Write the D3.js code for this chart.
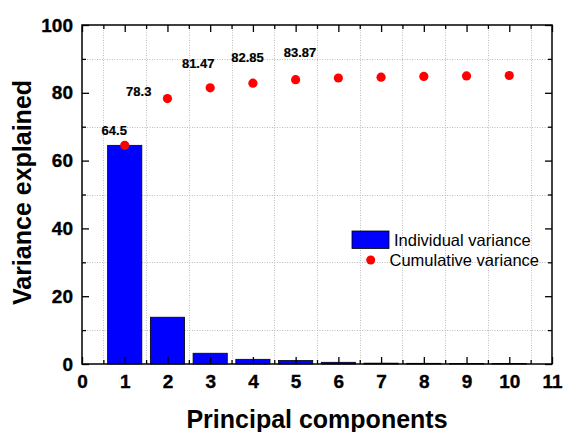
<!DOCTYPE html>
<html>
<head>
<meta charset="utf-8">
<script src="https://cdn.jsdelivr.net/npm/d3@7"></script>
<style>
  html, body { margin: 0; padding: 0; background: #fff; }
  svg { display: block; font-family: Arial, "Liberation Sans", sans-serif; }
</style>
</head>
<body>
<svg id="chart" width="564" height="432"></svg>
<script>
// ---- data ----
const components = [1, 2, 3, 4, 5, 6, 7, 8, 9, 10];
const individualVariance = [64.5, 13.8, 3.17, 1.38, 1.02, 0.5, 0.25, 0.2, 0.16, 0.12];
const cumulativeVariance = [64.5, 78.3, 81.47, 82.85, 83.87, 84.37, 84.62, 84.82, 84.98, 85.1];
const cumulativeLabels = ["64.5", "78.3", "81.47", "82.85", "83.87"];
const xTicks = [0, 1, 2, 3, 4, 5, 6, 7, 8, 9, 10, 11];
const yTicks = [0, 20, 40, 60, 80, 100];
const yMinorTicks = [10, 30, 50, 70, 90];
const xMinorTicks = [0.5, 1.5, 2.5, 3.5, 4.5, 5.5, 6.5, 7.5, 8.5, 9.5, 10.5];
const seriesNames = ["Individual variance", "Cumulative variance"];
const xTitle = "Principal components";
const yTitle = "Variance explained";

// label placement (style, pixel offsets from the point)
const labelOffsets = [[-10.5, -10.5], [-28.7, -3], [-12, -20], [-5.4, -21.4], [4.4, -23]];

// ---- layout ----
const L = 82, R = 552, T = 25, B = 364;
const svg = d3.select("#chart");
const x = d3.scaleLinear().domain([0, 11]).range([L, R]);
const y = d3.scaleLinear().domain([0, 100]).range([B, T]);

// grid
const grid = svg.append("g").attr("stroke", "#bdbdbd").attr("stroke-width", 1).attr("stroke-dasharray", "1,1.5");
grid.selectAll("line.vx").data(xMinorTicks).join("line")
  .attr("x1", d => Math.round(x(d)) + 0.5).attr("x2", d => Math.round(x(d)) + 0.5)
  .attr("y1", T).attr("y2", B);
grid.selectAll("line.hy").data(yMinorTicks).join("line")
  .attr("x1", L).attr("x2", R)
  .attr("y1", d => Math.round(y(d)) + 0.5).attr("y2", d => Math.round(y(d)) + 0.5);

// bars
const bw = 0.8;
svg.append("g").selectAll("rect").data(components).join("rect")
  .attr("x", (d) => x(d - bw / 2))
  .attr("width", x(bw) - x(0))
  .attr("y", (d, i) => y(individualVariance[i]))
  .attr("height", (d, i) => y(0) - y(individualVariance[i]))
  .attr("fill", "#0000ff")
  .attr("stroke", "#000")
  .attr("stroke-width", 0.8);

// axes
function styleAxis(g, fontSize) {
  g.select(".domain").remove();
  g.selectAll("line").attr("stroke", "#000").attr("stroke-width", 1.3);
  g.selectAll("text").attr("fill", "#000").attr("font-size", fontSize).attr("font-weight", "bold")
    .attr("stroke", "#000").attr("stroke-width", 0.35)
    .attr("font-family", "Arial, 'Liberation Sans', sans-serif");
}
svg.append("g").attr("transform", `translate(0,${B})`)
  .call(d3.axisBottom(x).tickValues(xTicks).tickSize(-7).tickSizeOuter(0).tickPadding(11).tickFormat(d3.format("d")))
  .call(g => styleAxis(g, 19));
svg.append("g").attr("transform", `translate(0,${B})`)
  .call(d3.axisBottom(x).tickValues(xMinorTicks).tickSize(-4).tickSizeOuter(0).tickFormat(""))
  .call(g => styleAxis(g, 19));
svg.append("g").attr("transform", `translate(0,${T})`)
  .call(d3.axisBottom(x).tickValues(xTicks).tickSize(7).tickSizeOuter(0).tickFormat(""))
  .call(g => styleAxis(g, 19));
svg.append("g").attr("transform", `translate(0,${T})`)
  .call(d3.axisBottom(x).tickValues(xMinorTicks).tickSize(4).tickSizeOuter(0).tickFormat(""))
  .call(g => styleAxis(g, 19));
svg.append("g").attr("transform", `translate(${L},0)`)
  .call(d3.axisLeft(y).tickValues(yTicks).tickSize(-7).tickSizeOuter(0).tickPadding(9).tickFormat(d3.format("d")))
  .call(g => styleAxis(g, 19));
svg.append("g").attr("transform", `translate(${L},0)`)
  .call(d3.axisLeft(y).tickValues(yMinorTicks).tickSize(-4).tickSizeOuter(0).tickFormat(""))
  .call(g => styleAxis(g, 19));
svg.append("g").attr("transform", `translate(${R},0)`)
  .call(d3.axisLeft(y).tickValues(yTicks).tickSize(7).tickSizeOuter(0).tickFormat(""))
  .call(g => styleAxis(g, 19));
svg.append("g").attr("transform", `translate(${R},0)`)
  .call(d3.axisLeft(y).tickValues(yMinorTicks).tickSize(4).tickSizeOuter(0).tickFormat(""))
  .call(g => styleAxis(g, 19));

// frame
svg.append("rect").attr("x", L).attr("y", T).attr("width", R - L).attr("height", B - T)
  .attr("fill", "none").attr("stroke", "#000").attr("stroke-width", 1.5);

// cumulative points
svg.append("g").selectAll("circle").data(components).join("circle")
  .attr("cx", d => x(d))
  .attr("cy", (d, i) => y(cumulativeVariance[i]))
  .attr("r", 4.6)
  .attr("fill", "#ff0000");

// point labels
svg.append("g").selectAll("text").data(cumulativeLabels).join("text")
  .attr("x", (d, i) => x(components[i]) + labelOffsets[i][0])
  .attr("y", (d, i) => y(cumulativeVariance[i]) + labelOffsets[i][1])
  .attr("text-anchor", "middle")
  .attr("font-size", 13).attr("font-weight", "bold").attr("fill", "#000")
  .attr("stroke", "#000").attr("stroke-width", 0.2)
  .text(d => d);

// legend
const lg = svg.append("g");
lg.append("rect").attr("x", 352).attr("y", 231).attr("width", 37).attr("height", 17.5)
  .attr("fill", "#0000ff").attr("stroke", "#000").attr("stroke-width", 0.8);
lg.append("text").attr("x", 394).attr("y", 246).attr("font-size", 16.5).attr("fill", "#000").text(seriesNames[0]);
lg.append("circle").attr("cx", 370.7).attr("cy", 260).attr("r", 4.5).attr("fill", "#ff0000");
lg.append("text").attr("x", 389.5).attr("y", 266).attr("font-size", 16.5).attr("fill", "#000").text(seriesNames[1]);

// axis titles
svg.append("text").attr("x", (L + R) / 2).attr("y", 427.5).attr("text-anchor", "middle")
  .attr("font-size", 25).attr("font-weight", "bold").attr("fill", "#000").text(xTitle);
svg.append("text").attr("transform", `translate(31,${(T + B) / 2 - 2}) rotate(-90)`).attr("text-anchor", "middle")
  .attr("font-size", 25).attr("font-weight", "bold").attr("fill", "#000").text(yTitle);
</script>
</body>
</html>
